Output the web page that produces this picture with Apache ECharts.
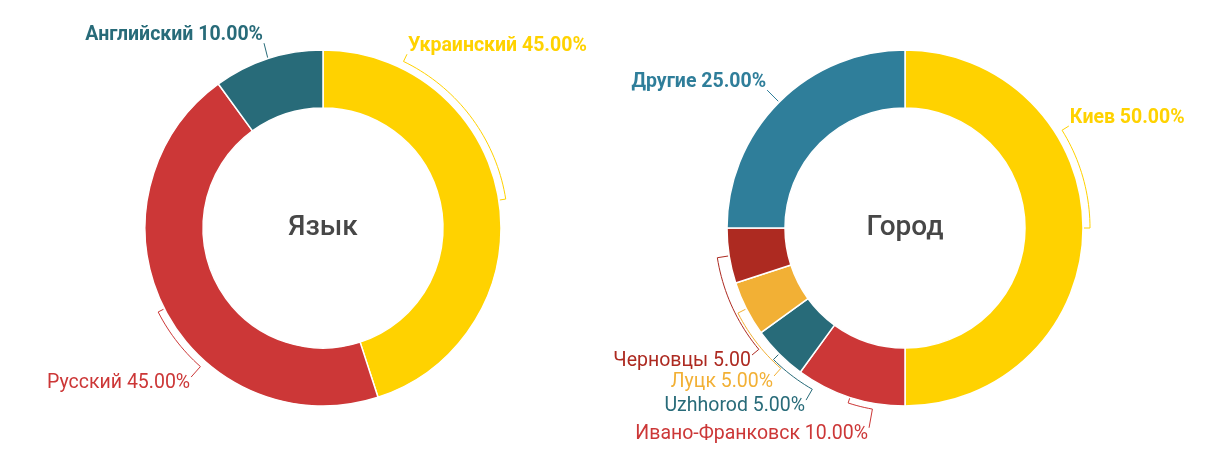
<!DOCTYPE html>
<html>
<head>
<meta charset="utf-8">
<script src="https://cdn.jsdelivr.net/npm/echarts@6/dist/echarts.min.js"></script>
<style>html,body{margin:0;padding:0;background:#fff}#c{width:1216px;height:475px}</style>
</head>
<body>
<div id="c"></div>
<script>
// ---- data ----
const langTitle = 'Язык';
const langNames = ['Украинский', 'Русский', 'Английский'];
const langValues = [45, 45, 10];

const cityTitle = 'Город';
const cityNames = ['Киев', 'Ивано-Франковск', 'Uzhhorod', 'Луцк', 'Черновцы', 'Другие'];
const cityValues = [50, 10, 5, 5, 5, 25];

// ---- styles ----
const langColors = ['#FFD200', '#CC3737', '#286B79'];
const cityColors = ['#FFD200', '#CC3737', '#286B79', '#F2B035', '#AD2A21', '#2F7E9A'];
const langWeights = ['bold', 'normal', 'bold'];
const cityWeights = ['bold', 'normal', 'normal', 'normal', 'normal', 'bold'];

// ---- label placement (angle clockwise from 12 o'clock, radius of anchor, radius of bracket arc) ----
const langLabelAngle = [25.8, 221.5, 342.3];
const langLabelRadius = [193, 199, 194];
const langArcRadius = [185, 185, 185];
const cityLabelAngle = [58.1, 190.2, 209.9, 221.5, 230.3, 315];
const cityLabelRadius = [193, 203, 198.5, 197.6, 198.8, 195];
const cityArcRadius = [185, 184, 186, 187.5, 190, 185];

const CENTERS = [[323, 228], [905, 228]];
const R_IN = 120, R_OUT = 178;

function makeLayout(values, angles, radii, arcR, center) {
  const total = values.reduce((a, b) => a + b, 0);
  const starts = [];
  let acc = 0;
  values.forEach(v => { starts.push(acc); acc += v; });
  const pt = (ang, r) => {
    const t = ang * Math.PI / 180;
    return [center[0] + r * Math.sin(t), center[1] - r * Math.cos(t)];
  };
  return function (params) {
    const i = params.dataIndex;
    const mid = (starts[i] + values[i] / 2) / total * 360;
    const la = angles[i];
    const pts = [pt(mid, R_OUT + 1)];
    if (Math.abs(la - mid) > 0.5) {
      pts.push(pt(mid, arcR[i]));
      const n = Math.max(2, Math.ceil(Math.abs(la - mid) / 1.5));
      for (let k = 1; k <= n; k++) pts.push(pt(mid + (la - mid) * k / n, arcR[i]));
    }
    const end = pt(la, radii[i]);
    pts.push(end);
    const right = end[0] > center[0];
    const up = end[1] < center[1];
    return {
      x: end[0] + (right ? 1 : -1),
      y: end[1] + (up ? -8 : 6),
      align: right ? 'left' : 'right',
      verticalAlign: 'middle',
      labelLinePoints: pts
    };
  };
}

function buildData(names, values, colors, weights, extra) {
  return names.map((n, i) => {
    const item = {
      name: n,
      value: values[i],
      itemStyle: { color: colors[i] },
      label: { color: colors[i], fontWeight: weights[i] },
      labelLine: { lineStyle: { color: colors[i] } }
    };
    if (extra && extra[n]) Object.assign(item.label, extra[n]);
    return item;
  });
}

function pieSeries(names, values, colors, weights, angles, radii, arcR, center, extra) {
  return {
    type: 'pie',
    center: center,
    radius: [R_IN, R_OUT],
    startAngle: 90,
    clockwise: true,
    avoidLabelOverlap: false,
    animation: false,
    emphasis: { disabled: true },
    itemStyle: { borderColor: '#ffffff', borderWidth: 1.5 },
    label: {
      show: true,
      position: 'outside',
      fontFamily: 'Roboto',
      fontSize: 19.5,
      formatter: p => p.name + ' ' + p.percent.toFixed(2) + '%'
    },
    labelLine: { show: true, length: 6, length2: 0, smooth: false, lineStyle: { width: 1 } },
    labelLayout: makeLayout(values, angles, radii, arcR, center),
    data: buildData(names, values, colors, weights, extra)
  };
}

const chart = echarts.init(document.getElementById('c'), null, { renderer: 'canvas' });
chart.setOption({
  animation: false,
  backgroundColor: '#ffffff',
  graphic: [langTitle, cityTitle].map((t, i) => ({
    type: 'text',
    x: CENTERS[i][0],
    y: CENTERS[i][1],
    silent: true,
    style: {
      text: t,
      align: 'center',
      verticalAlign: 'middle',
      textAlign: 'center',
      textVerticalAlign: 'middle',
      fill: '#474747',
      font: '500 28px Roboto'
    }
  })),
  series: [
    pieSeries(langNames, langValues, langColors, langWeights, langLabelAngle, langLabelRadius, langArcRadius, CENTERS[0]),
    pieSeries(cityNames, cityValues, cityColors, cityWeights, cityLabelAngle, cityLabelRadius, cityArcRadius, CENTERS[1],
      // the reference cuts this label short (no percent sign)
      { 'Черновцы': { formatter: p => p.name + ' ' + p.percent.toFixed(2) } })
  ]
});
</script>
</body>
</html>
